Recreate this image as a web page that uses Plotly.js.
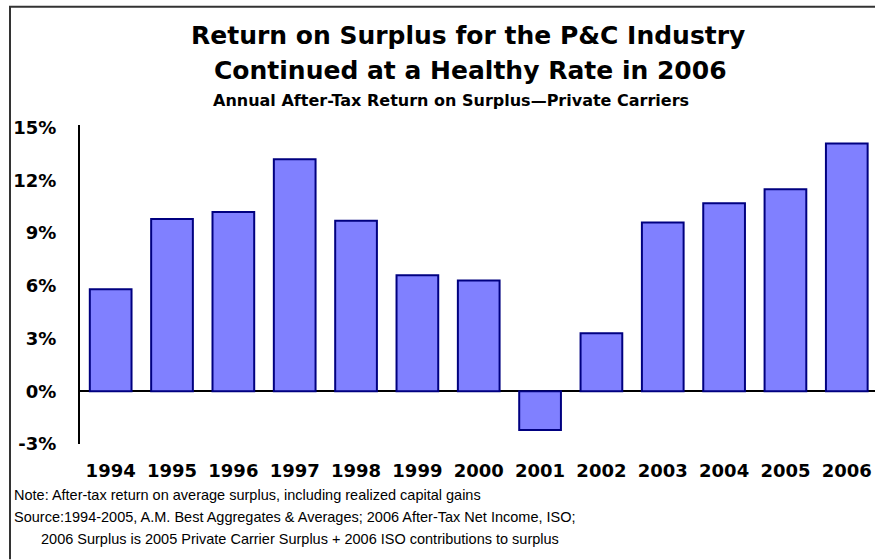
<!DOCTYPE html>
<html>
<head>
<meta charset="utf-8">
<script src="https://cdn.plot.ly/plotly-3.0.1.min.js"></script>
<style>html,body{margin:0;padding:0;background:#fff;}#chart{width:875px;height:560px;}</style>
</head>
<body>
<div id="chart"></div>
<script>
// Data
const years = ['1994','1995','1996','1997','1998','1999','2000','2001','2002','2003','2004','2005','2006'];
const returnOnSurplus = [5.8, 9.8, 10.2, 13.2, 9.7, 6.6, 6.3, -2.2, 3.3, 9.6, 10.7, 11.5, 14.1];
const yTickValues = [-3, 0, 3, 6, 9, 12, 15];
const yTickLabels = ['-3%', '0%', '3%', '6%', '9%', '12%', '15%'];
const titleLine1 = 'Return on Surplus for the P&C Industry';
const titleLine2 = 'Continued at a Healthy Rate in 2006';
const subtitle = 'Annual After-Tax Return on Surplus\u2014Private Carriers';
const noteLines = [
  'Note: After-tax return on average surplus, including realized capital gains',
  'Source:1994-2005, A.M. Best Aggregates & Averages; 2006 After-Tax Net Income, ISO;',
  '2006 Surplus is 2005 Private Carrier Surplus + 2006 ISO contributions to surplus'
];

// Layout geometry (pixels)
const W = 875, H = 560;
const mL = 80, mR = 0, mT = 125, mB = 115.5;
const plotH = H - mT - mB, plotW = W - mL - mR;
const py = p => (H - mB - p) / plotH;   // pixel y -> paper y
const px = p => (p - mL) / plotW;       // pixel x -> paper x

const bold = 'DejaVu Sans, Arial, sans-serif';
const regular = 'Liberation Sans, Arial, sans-serif';

const trace = {
  type: 'bar',
  x: years,
  y: returnOnSurplus,
  marker: { color: '#8080FF', line: { color: '#000080', width: 2 } },
  hoverinfo: 'skip'
};

const annotations = [
  { text: titleLine1, x: px(468), y: py(35.5), font: { family: bold, size: 25, weight: 'bold', color: '#000' } },
  { text: titleLine2, x: px(470), y: py(70.8), font: { family: bold, size: 25, weight: 'bold', color: '#000' } },
  { text: subtitle, x: px(451), y: py(100), font: { family: bold, size: 16, weight: 'bold', color: '#000' } },
].map(a => Object.assign({ xref: 'paper', yref: 'paper', xanchor: 'center', yanchor: 'middle', showarrow: false }, a));

const noteY = [496, 518, 540];
noteLines.forEach((t, i) => {
  annotations.push({
    text: t, xref: 'paper', yref: 'paper',
    x: px(i === 2 ? 39 : 12), y: py(noteY[i]), xanchor: 'left', yanchor: 'middle',
    showarrow: false, font: { family: regular, size: 14.5, color: '#000' }
  });
});

const layout = {
  width: W, height: H,
  margin: { l: mL, r: mR, t: mT, b: mB, pad: 0 },
  paper_bgcolor: '#fff', plot_bgcolor: 'rgba(0,0,0,0)',
  showlegend: false,
  bargap: 0.32,
  xaxis: {
    type: 'category', range: [-0.5, 12.46],
    showline: false, showgrid: false, zeroline: false, ticks: '',
    tickfont: { family: bold, size: 18, weight: 'bold', color: '#000' },
    ticklabelstandoff: 14, fixedrange: true
  },
  yaxis: {
    range: [-3, 15.15],
    tickvals: yTickValues, ticktext: yTickLabels,
    showline: true, linecolor: '#000', linewidth: 2,
    showgrid: false, zeroline: true, zerolinecolor: '#000', zerolinewidth: 2,
    ticks: '', ticklabelstandoff: 18,
    tickfont: { family: bold, size: 18, weight: 'bold', color: '#000' }, fixedrange: true
  },
  annotations: annotations,
  shapes: [
    { type: 'line', xref: 'paper', yref: 'paper', x0: px(10), x1: px(10), y0: py(6), y1: py(560), line: { color: '#333', width: 2 } },
    { type: 'line', xref: 'paper', yref: 'paper', x0: px(9), x1: px(875), y0: py(6.5), y1: py(6.5), line: { color: '#333', width: 2 } }
  ]
};

Plotly.newPlot('chart', [trace], layout, { displayModeBar: false, staticPlot: true });
</script>
</body>
</html>
